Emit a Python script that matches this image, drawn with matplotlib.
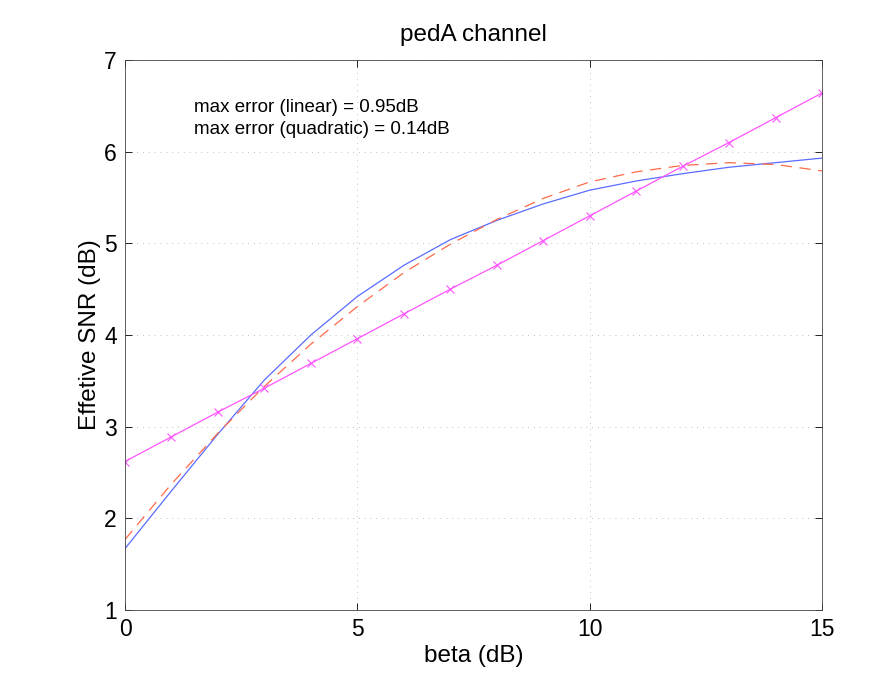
import matplotlib
matplotlib.use("Agg")
import matplotlib.pyplot as plt

plt.rcParams['font.family'] = ['Liberation Sans', 'DejaVu Sans']

beta = [0, 1, 2, 3, 4, 5, 6, 7, 8, 9, 10, 11, 12, 13, 14, 15]
snr_eff = [1.67, 2.30, 2.92, 3.51, 4.00, 4.42, 4.76, 5.04, 5.25, 5.43, 5.58, 5.68, 5.76, 5.83, 5.88, 5.93]
snr_quad = [1.77, 2.375, 2.93, 3.44, 3.90, 4.31, 4.68, 4.99, 5.26, 5.49, 5.67, 5.78, 5.85, 5.88, 5.86, 5.79]
snr_lin = [2.62, 2.89, 3.16, 3.42, 3.69, 3.96, 4.23, 4.50, 4.76, 5.03, 5.30, 5.57, 5.84, 6.10, 6.37, 6.64]

xticks = [0, 5, 10, 15]
yticks = [1, 2, 3, 4, 5, 6, 7]

fig = plt.figure(figsize=(8.93, 6.75), dpi=100)
ax = fig.add_axes([0.140, 0.0963, 0.7805, 0.8148])

ax.plot(beta, snr_eff, '-', color='#5a6cff', lw=0.9)
ax.plot(beta, snr_quad, '--', color='#ff6a4a', lw=0.9, dashes=(9, 6))
ax.plot(beta, snr_lin, '-', color='#ff55ff', lw=0.9, marker='x', ms=6, mew=0.8)

ax.set_xlim(0, 15)
ax.set_ylim(1, 7)
ax.set_xticks(xticks)
ax.set_yticks(yticks)
ax.tick_params(direction='in', labelsize=16.5, length=5, width=0.6, top=True, right=True, pad=6)
ax.grid(True, linestyle=(0, (1, 5)), color='#c0c0c0', lw=0.7)
for s in ax.spines.values():
    s.set_linewidth(0.6)
    s.set_color('#444444')

ax.set_xlabel('beta (dB)', fontsize=17.5, labelpad=3)
ax.set_ylabel('Effetive SNR (dB)', fontsize=17.5, labelpad=2)
ax.set_title('pedA channel', fontsize=17.5, pad=14)

ax.text(1.48, 6.48, 'max error (linear) = 0.95dB', fontsize=13.5, va='center', ha='left')
ax.text(1.48, 6.245, 'max error (quadratic) = 0.14dB', fontsize=13.5, va='center', ha='left')

fig.savefig('out.png', dpi=100)
